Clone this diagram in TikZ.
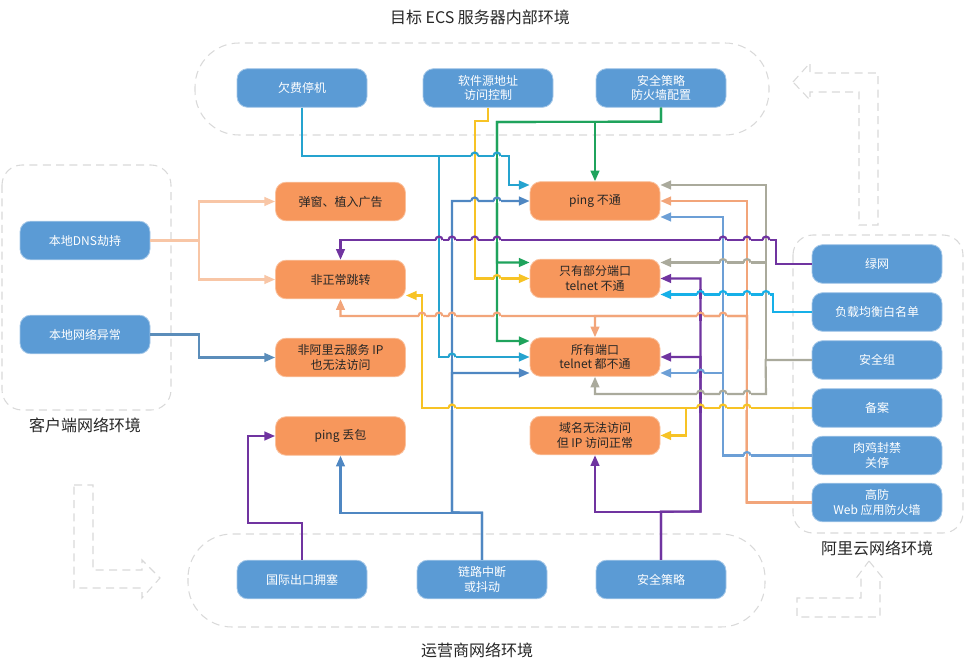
\documentclass[tikz,border=0pt]{standalone}
\usepackage{fontspec}
\setmainfont{Noto Sans CJK SC}
\usetikzlibrary{arrows.meta, calc}
\usepackage{xcolor}
% Colors
\definecolor{boxBlue}{HTML}{5B9BD5}
\definecolor{boxOrange}{HTML}{F7975C}
\definecolor{envGray}{HTML}{D9D9D9}
\definecolor{cDns}{HTML}{F8C6A6}
\definecolor{cLocal}{HTML}{5B8DBA}
\definecolor{cQf}{HTML}{25A3CF}
\definecolor{cYel}{HTML}{F7C325}
\definecolor{cGreen}{HTML}{1FA35C}
\definecolor{cLink}{HTML}{4F87C2}
\definecolor{cPur}{HTML}{7034A0}
\definecolor{cCyan}{HTML}{16B0E8}
\definecolor{cGray}{HTML}{AAAA9C}
\definecolor{cBlue}{HTML}{6C9FD6}
\definecolor{cOra}{HTML}{F2A57A}
\tikzset{
    font=\fontsize{9}{11}\selectfont,
    >={Triangle[length=8pt,width=6.5pt]},
    % Shapes
    blueBox/.style={rectangle, rounded corners=8pt, fill=boxBlue, draw=boxBlue!55!white, line width=0.6pt,
                    text=white, minimum width=97.5pt, minimum height=29pt, align=center, inner sep=1pt},
    orangeBox/.style={rectangle, rounded corners=8pt, fill=boxOrange, draw=boxOrange!60!white, line width=0.6pt,
                      text=black!85, minimum width=97.5pt, minimum height=29pt, align=center, inner sep=1pt},
    envBox/.style={draw=envGray, dash pattern=on 6pt off 4pt, line width=0.8pt},
    envLbl/.style={font=\fontsize{12}{14}\selectfont, text=black!85},
    % Flow
    flow/.style={->, line width=1.6pt}
}
% small hop where a horizontal line jumps over a vertical one
\newcommand{\lineHop}[4]{%
  \draw[white, line width=2.6pt] (#1-3.5,#2) -- (#1+3.5,#2);
  \draw[#4, line width=1.6pt] (#1,#2-5) -- (#1,#2+5);
  \draw[#3, line width=1.6pt] (#1-3.5,#2) arc[start angle=180, end angle=0, radius=2.625pt];
}

\begin{document}
\begin{tikzpicture}[x=0.75pt, y=-0.75pt]
\useasboundingbox (0,0) rectangle (965,670);

% environments
\draw[envBox, rounded corners=33pt] (195,43) rectangle (769,135);
\draw[envBox, rounded corners=33pt] (188,534) rectangle (765,627);
\draw[envBox, rounded corners=15pt] (2,165) rectangle (171,410);
\draw[envBox, rounded corners=15pt] (793,235) rectangle (963,533);
\node[envLbl] (tTop) at (480,17) {目标 ECS 服务器内部环境};
\node[envLbl] (tClient) at (85,425) {客户端网络环境};
\node[envLbl] (tAli) at (877,548) {阿里云网络环境};
\node[envLbl] (tIsp) at (477,650) {运营商网络环境};

% big dashed arrows
\draw[envBox] (793,82) -- (810,63) -- (810,73) -- (878,73) -- (878,225) -- (859,225)
              -- (859,92) -- (810,92) -- (810,100) -- cycle;
\draw[envBox] (74,485) -- (93,485) -- (93,570) -- (142,570) -- (142,560) -- (160,578)
              -- (142,598) -- (142,588) -- (74,588) -- cycle;
\draw[envBox] (869,561) -- (882,577) -- (880,577) -- (880,617) -- (797,617) -- (797,598)
              -- (861,598) -- (861,577) -- (857,577) -- cycle;

% ECS
\node[blueBox] (qf) at (302,88) {欠费停机};
\node[blueBox] (rjy) at (488,88) {软件源地址\\访问控制};
\node[blueBox] (aqcl) at (661,88) {安全策略\\防火墙配置};
% client
\node[blueBox] (dns) at (85,240.5) {本地DNS劫持};
\node[blueBox] (lnet) at (85,334.5) {本地网络异常};
% ISP
\node[blueBox] (gj) at (302,579.5) {国际出口拥塞};
\node[blueBox] (ll) at (482,579.5) {链路中断\\或抖动};
\node[blueBox] (aq) at (661,579.5) {安全策略};
% Aliyun
\node[blueBox] (lw) at (877,264) {绿网};
\node[blueBox] (lb) at (877,312) {负载均衡白名单};
\node[blueBox] (sg) at (877,360) {安全组};
\node[blueBox] (ba) at (877,408) {备案};
\node[blueBox] (rj) at (877,455.5) {肉鸡封禁\\关停};
\node[blueBox] (gf) at (877,502.5) {高防\\Web 应用防火墙};
% symptoms
\node[orangeBox] (tc) at (340.5,201.5) {弹窗、植入广告};
\node[orangeBox] (ft) at (340.5,279.5) {非正常跳转};
\node[orangeBox] (fal) at (340.5,357.5) {非阿里云服务 IP\\也无法访问};
\node[orangeBox] (pdb) at (340.5,436) {ping 丢包};
\node[orangeBox] (pno) at (595,201) {ping 不通};
\node[orangeBox] (part) at (595,278.5) {只有部分端口\\telnet 不通};
\node[orangeBox] (allno) at (595,357) {所有端口\\telnet 都不通};
\node[orangeBox] (dom) at (595,435.5) {域名无法访问\\但 IP 访问正常};

% client links
\draw[flow, cDns] (dns.east) -- ++(49,0) |- (tc.west);
\draw[flow, cDns] (dns.east) -- ++(49,0) |- (ft.west);
\draw[flow, cLocal] (lnet.east) -- ++(49,0) |- (fal.west);

% ECS links
\draw[flow, cQf] (qf.south) |- (509,156) |- ($(pno.west)+(0,-16)$);
\draw[flow, cQf] (qf.south) |- (439,156) |- (allno.west);
\draw[flow, cYel] (rjy.south) -- ++(0,13) -- ++(-13.3,0) |- (part.west);
\draw[flow, cGreen] (aqcl.south) -- ++(0,14) -| (pno.north);
\draw[flow, cGreen] (aqcl.south) -- ++(0,14) -- (497,122) |- ($(part.west)+(0,-16)$);
\draw[flow, cGreen] (aqcl.south) -- ++(0,14) -- (497,122) |- ($(allno.west)+(0,-16)$);

% ISP links
\draw[flow, cLink] (ll.north) -- ++(0,-47) -| (pdb.south);
\draw[flow, cLink] (ll.north) -- ++(0,-47) -- (452,512.5) |- (pno.west);
\draw[flow, cLink] (ll.north) -- ++(0,-47) -- (452,512.5) |- ($(allno.west)+(0,16)$);
\draw[flow, cPur] (gj.north) -- ++(0,-37) -- ++(-54,0) |- (pdb.west);
\draw[flow, cPur] (aq.north) -- ++(0,-48) -| (dom.south);
\draw[flow, cPur] (aq.north) -- ++(0,-48) -- (700.5,511.5) |- (part.east);
\draw[flow, cPur] (aq.north) -- ++(0,-48) -- (700.5,511.5) |- (allno.east);

% Aliyun links
\draw[flow, cPur] (lw.west) -- ++(-36,0) -- ++(0,-24) -| (ft.north);
\draw[flow, cCyan] (lb.west) -- ++(-39,0) |- ($(part.east)+(0,16)$);
\draw[flow, cGray] (sg.west) -- ++(-46,0) |- ($(pno.east)+(0,-16)$);
\draw[flow, cGray] (sg.west) -- ++(-46,0) |- ($(part.east)+(0,-16)$);
\draw[flow, cGray] (sg.west) -- ++(-46,0) -- (766,394) -| (allno.south);
\draw[flow, cYel] (ba.west) -- ++(-390,0) |- ($(ft.east)+(0,16)$);
\draw[flow, cYel] (ba.west) -- ++(-126,0) |- (dom.east);
\draw[flow, cBlue] (rj.west) -- ++(-89,0) |- ($(pno.east)+(0,16)$);
\draw[flow, cBlue] (rj.west) -- ++(-89,0) |- ($(allno.east)+(0,16)$);
\draw[flow, cOra] (gf.west) -- ++(-65,0) |- (pno.east);
\draw[flow, cOra] (gf.west) -- ++(-65,0) -- (747,316) -| (ft.south);
\draw[flow, cOra] (gf.west) -- ++(-65,0) -- (747,316) -| (allno.north);

% hops
\foreach \hx/\hy/\hc/\vc in {474.7/156/cQf/cYel, 497/156/cQf/cGreen,
    474.7/201/cLink/cYel, 497/201/cLink/cGreen,
    766/240/cPur/cGray, 747/240/cPur/cOra, 723/240/cPur/cBlue, 497/240/cPur/cGreen,
    474.7/240/cPur/cYel, 452/240/cPur/cLink, 439/240/cPur/cQf,
    747/262.5/cGray/cOra, 723/262.5/cGray/cBlue,
    497/278.5/cYel/cGreen,
    766/294.5/cCyan/cGray, 747/294.5/cCyan/cOra, 723/294.5/cCyan/cBlue, 700.5/294.5/cCyan/cPur,
    723/316/cOra/cBlue, 700.5/316/cOra/cPur, 497/316/cOra/cGreen, 452/316/cOra/cLink,
    439/316/cOra/cQf, 422/316/cOra/cYel,
    452/357/cQf/cLink,
    700.5/373/cBlue/cPur,
    747/394/cGray/cOra, 723/394/cGray/cBlue, 700.5/394/cGray/cPur,
    747/408/cYel/cOra, 723/408/cYel/cBlue, 700.5/408/cYel/cPur, 452/408/cYel/cLink,
    747/455.5/cBlue/cOra}
  {\lineHop{\hx}{\hy}{\hc}{\vc}}

\end{tikzpicture}
\end{document}
